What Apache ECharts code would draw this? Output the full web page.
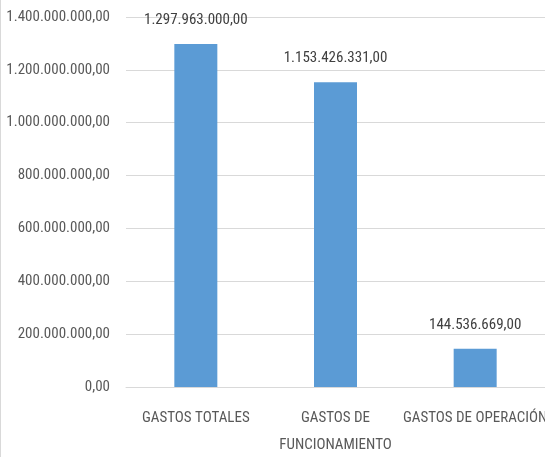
<!DOCTYPE html>
<html><head><meta charset="utf-8">
<script src="https://cdn.jsdelivr.net/npm/echarts@6/dist/echarts.min.js"></script>
<style>html,body{margin:0;padding:0;background:#fff}#c{width:545px;height:457px}</style>
</head><body><div id="c"></div>
<script>
const categories = ['GASTOS TOTALES', 'GASTOS DE\nFUNCIONAMIENTO', 'GASTOS DE OPERACIÓN'];
const values = [1297963000, 1153426331, 144536669];
const FONT = '"Roboto Condensed","DejaVu Sans Condensed",sans-serif';
function fmt(v) {
  const parts = Math.round(v).toString().replace(/\B(?=(\d{3})+(?!\d))/g, '.');
  return parts + ',00';
}
const chart = echarts.init(document.getElementById('c'));
chart.setOption({
  animation: false,
  grid: { left: 126, right: 0, top: 17, bottom: 70, containLabel: false, outerBoundsMode: 'none' },
  graphic: [{ type: 'line', shape: { x1: 0.5, y1: 0, x2: 0.5, y2: 457 }, style: { stroke: '#d9d9d9', lineWidth: 1 } }],
  xAxis: {
    type: 'category', data: categories,
    axisTick: { show: false },
    axisLine: { lineStyle: { color: '#d9d9d9' } },
    axisLabel: { color: '#595959', fontFamily: FONT, fontSize: 15, margin: 18, lineHeight: 27, interval: 0, hideOverlap: false }
  },
  yAxis: {
    type: 'value', min: 0, max: 1400000000, interval: 200000000,
    axisLine: { show: false }, axisTick: { show: false },
    splitLine: { lineStyle: { color: '#d9d9d9' } },
    axisLabel: { color: '#595959', fontFamily: FONT, fontSize: 15, margin: 16, formatter: fmt }
  },
  series: [{
    type: 'bar', data: values, barWidth: 43,
    itemStyle: { color: '#5B9BD5' },
    label: { show: true, position: 'top', distance: 16, color: '#404040', fontFamily: FONT, fontSize: 15, formatter: p => fmt(p.value) }
  }]
});
</script></body></html>
